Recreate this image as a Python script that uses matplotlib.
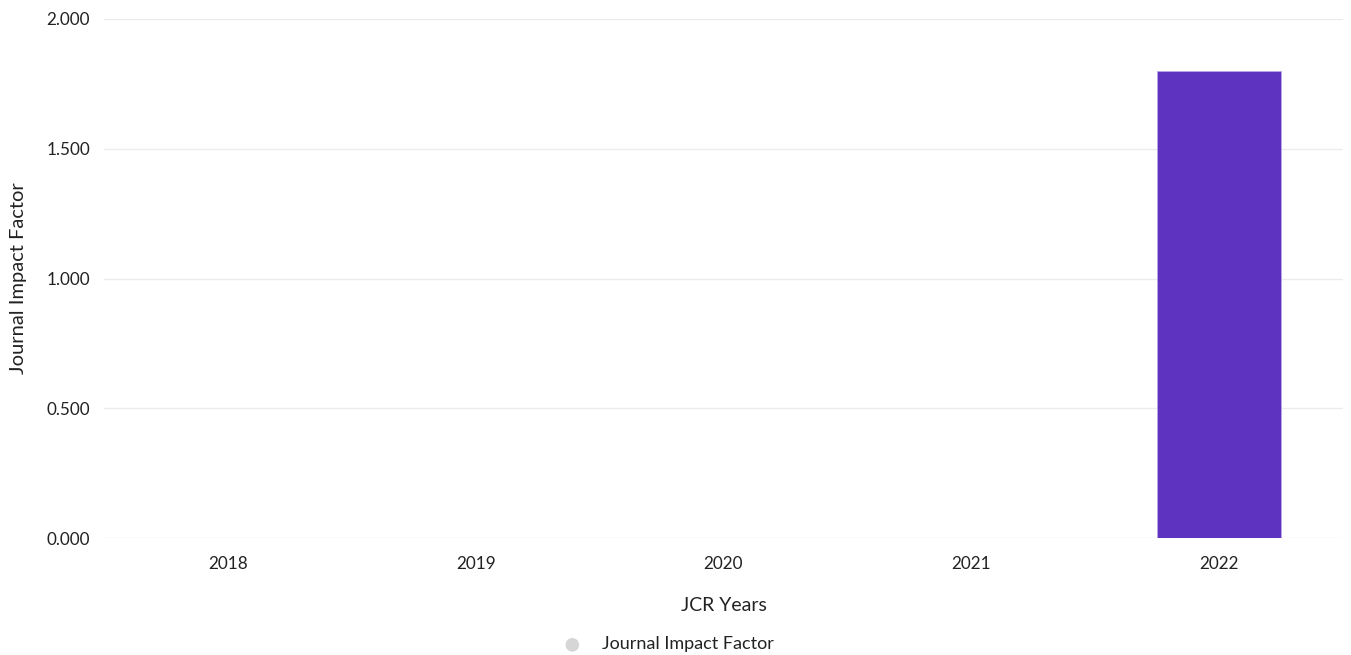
import matplotlib.pyplot as plt
import numpy as np

plt.rcParams['font.family'] = ['Lato', 'DejaVu Sans']

years = ["2018", "2019", "2020", "2021", "2022"]
jif = [np.nan, np.nan, np.nan, np.nan, 1.8]

fig = plt.figure(figsize=(13.51, 6.55), dpi=100)
ax = fig.add_axes([0.077, 0.1786, 0.917, 0.7924])

x = np.arange(len(years))
ax.bar(x, jif, width=0.5, color="#5e33bf", edgecolor="#b9a5ea", linewidth=0.6, zorder=3)

ax.set_xlim(-0.5, 4.5)
ax.set_ylim(0, 2.0)
ax.set_yticks([0, 0.5, 1.0, 1.5, 2.0])
ax.set_yticklabels([f"{v:.3f}" for v in [0, 0.5, 1.0, 1.5, 2.0]])
ax.set_xticks(x)
ax.set_xticklabels(years)

ax.grid(axis="y", color="#ececec", linewidth=1, zorder=0)
ax.tick_params(axis="both", length=0, labelsize=12.3, colors="#222222")
ax.tick_params(axis="x", pad=13)
ax.tick_params(axis="y", pad=10)
for s in ax.spines.values():
    s.set_visible(False)

ax.set_xlabel("JCR Years", fontsize=14, color="#222222", labelpad=18)
ax.set_ylabel("Journal Impact Factor", fontsize=14.5, color="#222222", labelpad=14)
ax.yaxis.set_label_coords(-0.0625, 0.5)

fig.text(0.4235, 0.0168, "\u25cf", color="#d6d6d6", fontsize=20, ha="center", va="center")
fig.text(0.4455, 0.0168, "Journal Impact Factor", color="#222222", fontsize=13, ha="left", va="center")

fig.savefig("out.png", dpi=100)
